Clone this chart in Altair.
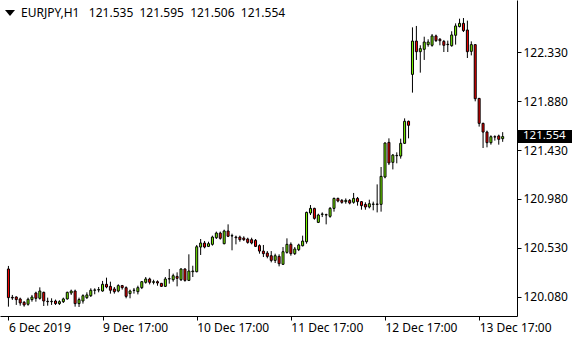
import json
import altair as alt
import pandas as pd

symbol = "EURJPY,H1"
header_values = [121.535, 121.595, 121.506, 121.554]
last_price = 121.554

opens = [
    120.335, 120.074, 120.077, 120.059, 120.028, 120.010, 120.053, 120.114, 120.065, 120.120,
    120.037, 120.034, 120.040, 120.016, 120.034, 120.059, 120.114, 120.132, 120.016, 120.040,
    120.071, 120.089, 120.139, 120.142, 120.132, 120.194, 120.175, 120.151, 120.132, 120.182,
    120.163, 120.108, 120.138, 120.126, 120.163, 120.212, 120.243, 120.212, 120.218, 120.203,
    120.175, 120.243, 120.236, 120.267, 120.236, 120.335, 120.230, 120.310, 120.310, 120.537,
    120.574, 120.543, 120.562, 120.623, 120.666, 120.568, 120.685, 120.639, 120.629, 120.629,
    120.620, 120.611, 120.605, 120.599, 120.550, 120.500, 120.482, 120.457, 120.414, 120.451,
    120.378, 120.488, 120.562, 120.476, 120.513, 120.549, 120.586, 120.850, 120.893, 120.764,
    120.838, 120.835, 120.820, 120.893, 120.985, 120.967, 120.955, 120.967, 120.949, 120.985,
    120.955, 120.930, 120.906, 120.930, 120.933, 120.930, 121.182, 121.501, 121.317, 121.378,
    121.375, 121.492, 121.695, 122.127, 122.434, 122.336, 122.358, 122.401, 122.395, 122.481,
    122.450, 122.431, 122.401, 122.391, 122.487, 122.567, 122.597, 122.536, 122.339, 122.401,
    121.906, 121.676, 121.596, 121.498, 121.553, 121.560, 121.535,
]
highs = [
    120.363, 120.096, 120.083, 120.071, 120.040, 120.071, 120.096, 120.126, 120.166, 120.126,
    120.071, 120.065, 120.053, 120.047, 120.071, 120.126, 120.145, 120.145, 120.071, 120.102,
    120.120, 120.157, 120.157, 120.169, 120.225, 120.255, 120.218, 120.169, 120.194, 120.188,
    120.175, 120.145, 120.160, 120.181, 120.224, 120.261, 120.255, 120.236, 120.230, 120.206,
    120.261, 120.335, 120.292, 120.304, 120.341, 120.341, 120.470, 120.365, 120.556, 120.611,
    120.593, 120.586, 120.642, 120.679, 120.679, 120.697, 120.746, 120.660, 120.642, 120.642,
    120.636, 120.623, 120.623, 120.611, 120.562, 120.556, 120.500, 120.500, 120.476, 120.470,
    120.537, 120.617, 120.580, 120.537, 120.568, 120.642, 120.863, 120.924, 120.899, 120.844,
    120.856, 120.844, 120.906, 120.992, 120.992, 120.979, 120.985, 120.979, 121.035, 120.998,
    120.961, 120.949, 120.973, 120.955, 121.114, 121.274, 121.501, 121.538, 121.394, 121.409,
    121.535, 121.722, 121.701, 122.560, 122.573, 122.395, 122.474, 122.450, 122.499, 122.493,
    122.462, 122.444, 122.438, 122.524, 122.597, 122.640, 122.646, 122.622, 122.431, 122.401,
    121.910, 121.682, 121.609, 121.566, 121.566, 121.572, 121.595,
]
lows = [
    119.988, 120.050, 120.004, 119.997, 119.988, 119.997, 120.034, 120.034, 120.053, 119.994,
    119.997, 120.004, 120.004, 120.004, 120.022, 120.053, 120.096, 119.988, 119.985, 120.016,
    120.059, 120.077, 120.102, 120.120, 120.126, 120.157, 120.108, 120.108, 120.120, 120.145,
    120.065, 120.065, 120.108, 120.101, 120.150, 120.200, 120.193, 120.193, 120.181, 120.169,
    120.169, 120.200, 120.218, 120.175, 120.224, 120.218, 120.224, 120.261, 120.304, 120.464,
    120.525, 120.537, 120.550, 120.611, 120.605, 120.562, 120.629, 120.507, 120.562, 120.586,
    120.593, 120.568, 120.562, 120.537, 120.476, 120.445, 120.433, 120.396, 120.390, 120.359,
    120.372, 120.476, 120.457, 120.464, 120.500, 120.543, 120.568, 120.832, 120.789, 120.758,
    120.813, 120.746, 120.807, 120.863, 120.949, 120.936, 120.936, 120.930, 120.936, 120.918,
    120.881, 120.881, 120.893, 120.875, 120.856, 120.863, 121.170, 121.292, 121.252, 121.308,
    121.351, 121.486, 121.538, 121.959, 122.260, 122.143, 122.260, 122.382, 122.382, 122.425,
    122.395, 122.333, 122.333, 122.382, 122.401, 122.560, 122.517, 122.278, 122.302, 121.879,
    121.646, 121.449, 121.455, 121.480, 121.517, 121.480, 121.506,
]
closes = [
    120.071, 120.068, 120.053, 120.022, 120.004, 120.056, 120.077, 120.065, 120.132, 120.040,
    120.034, 120.037, 120.016, 120.034, 120.059, 120.120, 120.132, 120.016, 120.053, 120.089,
    120.096, 120.139, 120.142, 120.145, 120.194, 120.169, 120.139, 120.126, 120.182, 120.163,
    120.083, 120.132, 120.140, 120.163, 120.218, 120.243, 120.212, 120.218, 120.206, 120.175,
    120.243, 120.246, 120.273, 120.249, 120.335, 120.230, 120.316, 120.316, 120.540, 120.574,
    120.537, 120.568, 120.629, 120.666, 120.617, 120.685, 120.636, 120.642, 120.623, 120.605,
    120.605, 120.580, 120.574, 120.543, 120.500, 120.476, 120.451, 120.414, 120.457, 120.384,
    120.494, 120.562, 120.476, 120.519, 120.556, 120.592, 120.856, 120.893, 120.801, 120.832,
    120.841, 120.832, 120.893, 120.985, 120.961, 120.949, 120.967, 120.942, 120.985, 120.955,
    120.918, 120.906, 120.936, 120.933, 120.930, 121.188, 121.495, 121.311, 121.384, 121.381,
    121.492, 121.695, 121.658, 122.434, 122.336, 122.364, 122.425, 122.425, 122.481, 122.438,
    122.437, 122.395, 122.404, 122.490, 122.573, 122.597, 122.530, 122.336, 122.401, 121.903,
    121.676, 121.596, 121.498, 121.553, 121.550, 121.529, 121.554,
]

tick_bars = [0, 24, 48, 72, 96, 120]
tick_labels = ["6 Dec 2019", "9 Dec 17:00", "10 Dec 17:00", "11 Dec 17:00",
               "12 Dec 17:00", "13 Dec 17:00"]
price_ticks = [120.080, 120.530, 120.980, 121.430, 121.880, 122.330]

UP = "#7CFC00"
DOWN = "#FF0000"
FONT = "Noto Sans"

df = pd.DataFrame({
    "bar": list(range(len(opens))),
    "open": opens, "high": highs, "low": lows, "close": closes,
})
df["dir"] = ["up" if c >= o else "down" for o, c in zip(opens, closes)]

label_expr = json.dumps(tick_labels) + "[round(datum.value / 24)]"

xscale = alt.Scale(domain=[-0.875, 128.375], nice=False, zero=False)
xaxis = alt.Axis(values=tick_bars, labelExpr=label_expr, title=None, grid=False,
                 labelAlign="left", tickSize=4, labelPadding=2, labelFlush=False,
                 labelOverlap=False, labelBound=False)
yscale = alt.Scale(domain=[119.902, 122.812], nice=False, zero=False)
yaxis = alt.Axis(orient="right", values=price_ticks, format=".3f", title=None,
                 grid=False, tickSize=4, labelPadding=2, labelFlush=False,
                 labelOverlap=False)

base = alt.Chart(df)

wicks = base.mark_rule(color="black", strokeWidth=1).encode(
    x=alt.X("bar:Q", scale=xscale, axis=xaxis),
    y=alt.Y("low:Q", scale=yscale, axis=yaxis),
    y2="high:Q",
)

bodies = base.mark_bar(size=2, stroke="black", strokeWidth=1).encode(
    x=alt.X("bar:Q", scale=xscale, axis=xaxis),
    y=alt.Y("open:Q", scale=yscale, axis=yaxis),
    y2="close:Q",
    color=alt.Color("dir:N", scale=alt.Scale(domain=["up", "down"], range=[UP, DOWN]),
                    legend=None),
)

tag_df = pd.DataFrame({"price": [last_price], "label": [f"{last_price:.3f}"]})
tag_bg = alt.Chart(tag_df).mark_rule(color="black", strokeWidth=13).encode(
    x=alt.value(517), x2=alt.value(572),
    y=alt.Y("price:Q", scale=yscale, axis=yaxis),
)
tag_text = alt.Chart(tag_df).mark_text(
    color="white", align="left", baseline="middle", font=FONT, fontSize=11.5, dy=-1
).encode(
    x=alt.value(523),
    y=alt.Y("price:Q", scale=yscale, axis=yaxis),
    text="label:N",
)

NB = "\u00a0"
header_text = symbol + NB * 3 + (NB * 2).join(f"{v:.3f}" for v in header_values)
head_df = pd.DataFrame({"t": [header_text]})
header = alt.Chart(head_df).mark_text(
    color="black", align="left", baseline="alphabetic", font=FONT, fontSize=12
).encode(x=alt.value(21), y=alt.value(17), text="t:N")

tri = alt.Chart(head_df).mark_point(
    shape="M-1,-0.6L1,-0.6L0,0.6Z", filled=True, color="black", size=100, opacity=1
).encode(x=alt.value(10), y=alt.value(13))

chart = alt.layer(wicks, bodies, tag_bg, tag_text, header, tri).properties(
    width=517, height=316,
    autosize=alt.AutoSizeParams(type="none"),
    padding={"left": 0, "top": 0, "right": 63, "bottom": 24},
    background="white",
).configure_view(stroke=None).configure_axis(
    domainColor="black", tickColor="black", labelColor="black",
    labelFont=FONT, labelFontSize=12, domainWidth=1, tickWidth=1,
)

chart.save("out.html", embed_options={"renderer": "svg", "actions": False})
